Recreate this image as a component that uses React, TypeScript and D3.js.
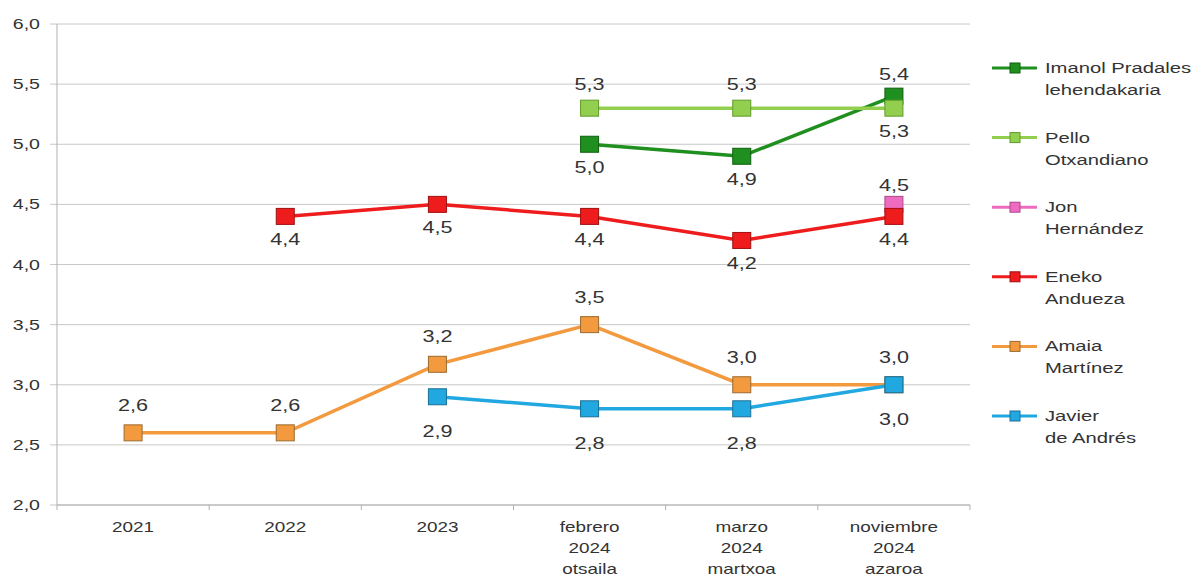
import React from "react";
import * as d3 from "d3";

const categories = ["2021", "2022", "2023", "feb2024", "mar2024", "nov2024"];
const categoryLabels: string[][] = [
  ["2021"],
  ["2022"],
  ["2023"],
  ["febrero", "2024", "otsaila"],
  ["marzo", "2024", "martxoa"],
  ["noviembre", "2024", "azaroa"],
];
const yTicks = [2.0, 2.5, 3.0, 3.5, 4.0, 4.5, 5.0, 5.5, 6.0];

const imanol: (number | null)[] = [null, null, null, 5.0, 4.9, 5.4];
const pello: (number | null)[] = [null, null, null, 5.3, 5.3, 5.3];
const jon: (number | null)[] = [null, null, null, null, null, 4.5];
const eneko: (number | null)[] = [null, 4.4, 4.5, 4.4, 4.2, 4.4];
const amaia: (number | null)[] = [2.6, 2.6, 3.17, 3.5, 3.0, 3.0];
const javier: (number | null)[] = [null, null, 2.9, 2.8, 2.8, 3.0];

// label position per point: 1 above, -1 below
const imanolPos = [0, 0, 0, -1, -1, 1];
const pelloPos = [0, 0, 0, 1, 1, -1];
const jonPos = [0, 0, 0, 0, 0, 1];
const enekoPos = [0, -1, -1, -1, -1, -1];
const amaiaPos = [1, 1, 1, 1, 1, 1];
const javierPos = [0, 0, -1, -1, -1, -1];

const series = [
  { name: ["Imanol Pradales", "lehendakaria"], values: imanol, pos: imanolPos, color: "#1f8f1f", stroke: "#0f5f0f", up: -16, down: 29 },
  { name: ["Pello", "Otxandiano"], values: pello, pos: pelloPos, color: "#93cf4f", stroke: "#5f9a2a", up: -18, down: 29 },
  { name: ["Jon", "Hernández"], values: jon, pos: jonPos, color: "#ee6cc0", stroke: "#a8488a", up: -13, down: 29 },
  { name: ["Eneko", "Andueza"], values: eneko, pos: enekoPos, color: "#ee1c1c", stroke: "#a01010", up: -20, down: 29 },
  { name: ["Amaia", "Martínez"], values: amaia, pos: amaiaPos, color: "#f39a3e", stroke: "#9a6a30", up: -22, down: 29 },
  { name: ["Javier", "de Andrés"], values: javier, pos: javierPos, color: "#22a8e0", stroke: "#1a6f95", up: -22, down: 40 },
];

const W = 1196;
const H = 579;
const left = 57;
const right = 970;
const top = 24;
const bottom = 505;
const SX = 1.35;

function T(props: { x: number; y: number; anchor?: string; size: number; children: React.ReactNode }) {
  return (
    <text
      transform={`translate(${props.x},${props.y}) scale(${SX},1)`}
      textAnchor={props.anchor || "start"}
      fontSize={props.size}
      fill="#333"
    >
      {props.children}
    </text>
  );
}

export default function App() {
  const x = d3.scaleBand<string>().domain(categories).range([left, right]);
  const y = d3.scaleLinear().domain([2, 6]).range([bottom, top]);
  const cx = (i: number) => (x(categories[i]) as number) + x.bandwidth() / 2;
  const fmt = (v: number) => d3.format(".1f")(v).replace(".", ",");
  const font = "'Liberation Sans', Arial, sans-serif";
  const mw = 18;
  const mh = 16;

  return (
    <svg width={W} height={H} style={{ position: "absolute", left: 0, top: 0, background: "#fff" }} fontFamily={font}>
      <rect x={0} y={0} width={W} height={H} fill="#fff" />
      {yTicks.map((t) => (
        <g key={t}>
          <line x1={left - 7} x2={right} y1={y(t)} y2={y(t)} stroke="#c8c8c8" strokeWidth={1} />
          <T x={40} y={y(t) + 5} anchor="end" size={14.5}>
            {fmt(t)}
          </T>
        </g>
      ))}
      <line x1={left} x2={left} y1={top} y2={bottom} stroke="#b0b0b0" strokeWidth={1} />
      <line x1={left} x2={right} y1={bottom} y2={bottom} stroke="#b0b0b0" strokeWidth={1} />
      {categories.map((c, i) => (
        <line key={"t" + i} x1={x(c) as number} x2={x(c) as number} y1={bottom} y2={bottom + 5} stroke="#b0b0b0" />
      ))}
      <line x1={right} x2={right} y1={bottom} y2={bottom + 5} stroke="#b0b0b0" />
      {categoryLabels.map((lines, i) => (
        <g key={"c" + i}>
          {lines.map((l, j) => (
            <T key={j} x={cx(i)} y={532 + j * 21} anchor="middle" size={14}>
              {l}
            </T>
          ))}
        </g>
      ))}
      {series.map((s, si) => {
        const pts = s.values.map((v, i) => ({ v, i })).filter((p) => p.v !== null) as { v: number; i: number }[];
        const line = d3
          .line<{ v: number; i: number }>()
          .x((p) => cx(p.i))
          .y((p) => y(p.v));
        return (
          <g key={"s" + si}>
            <path d={line(pts) || ""} fill="none" stroke={s.color} strokeWidth={3.5} />
            {pts.map((p) => (
              <rect
                key={p.i}
                x={cx(p.i) - mw / 2}
                y={y(p.v) - mh / 2}
                width={mw}
                height={mh}
                fill={s.color}
                stroke={s.stroke}
                strokeWidth={1}
              />
            ))}
          </g>
        );
      })}
      {series.map((s, si) => (
        <g key={"l" + si}>
          {s.values.map((v, i) =>
            v === null ? null : (
              <T key={i} x={cx(i)} y={y(v) + (s.pos[i] > 0 ? s.up : s.down)} anchor="middle" size={16}>
                {fmt(v)}
              </T>
            )
          )}
        </g>
      ))}
      {series.map((s, si) => {
        const ly = 68 + si * 69.6;
        return (
          <g key={"lg" + si}>
            <line x1={992} x2={1037} y1={ly} y2={ly} stroke={s.color} strokeWidth={3} />
            <rect x={1010} y={ly - 5} width={10} height={10} fill={s.color} stroke={s.stroke} strokeWidth={1} />
            <T x={1045} y={ly + 5} size={15}>
              {s.name[0]}
            </T>
            <T x={1045} y={ly + 27} size={15}>
              {s.name[1]}
            </T>
          </g>
        );
      })}
    </svg>
  );
}
